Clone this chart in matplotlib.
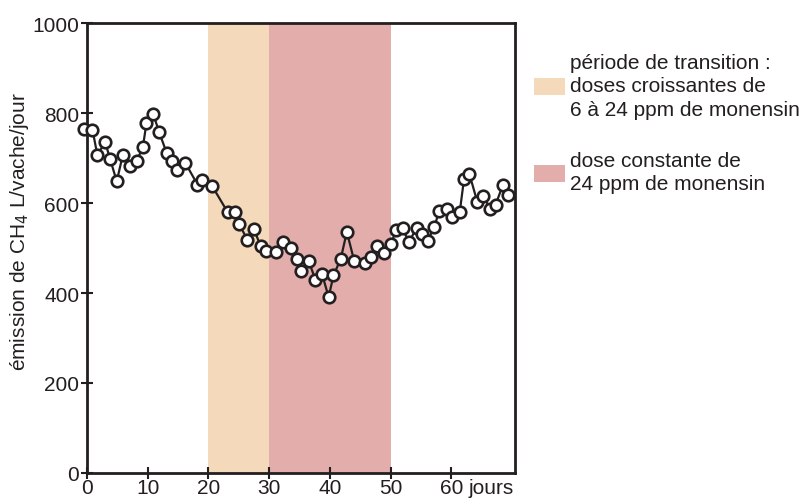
import matplotlib
matplotlib.use("Agg")
import matplotlib.pyplot as plt
from matplotlib.patches import Rectangle
from matplotlib.transforms import blended_transform_factory

plt.rcParams['font.family'] = ['Liberation Sans', 'DejaVu Sans']

# Daily CH4 emission per cow (L/day)
days = [-0.5, 0.9, 1.7, 3.0, 3.8, 4.9, 5.9, 7.1, 8.2, 9.2, 9.8, 10.9, 11.9,
        13.1, 14.0, 14.9, 16.2, 18.2, 18.9, 20.6, 23.2, 24.4, 25.1, 26.4,
        27.5, 28.6, 29.5, 31.1, 32.3, 33.6, 34.6, 35.3, 36.5, 37.6, 38.7,
        39.8, 40.6, 41.8, 42.8, 44.0, 45.8, 46.8, 47.7, 48.9, 50.1, 50.9,
        52.0, 53.0, 54.3, 55.1, 56.1, 57.2, 58.0, 59.3, 60.2, 61.4, 62.1,
        63.0, 64.3, 65.3, 66.4, 67.3, 68.5, 69.4]
emission = [764, 763, 707, 735, 698, 648, 707, 683, 694, 724, 778, 798, 757,
            712, 693, 673, 689, 641, 651, 638, 579, 581, 553, 518, 542, 504,
            494, 492, 513, 501, 476, 448, 472, 430, 443, 391, 439, 476, 536,
            472, 467, 479, 505, 490, 510, 539, 544, 513, 544, 532, 516, 546,
            582, 587, 568, 580, 653, 664, 602, 615, 587, 596, 640, 618]

# Treatment periods (days)
transition = (20, 30)
constant = (30, 50)
period_labels = ["période de transition :\ndoses croissantes de\n6 à 24 ppm de monensin",
                 "dose constante de\n24 ppm de monensin"]
period_colors = ["#F4D9BB", "#E3ADAB"]

xticks = [0, 10, 20, 30, 40, 50, 60]
yticks = [0, 200, 400, 600, 800, 1000]

TXT = "#231F20"
FS = 15

W, H = 807, 502
fig = plt.figure(figsize=(W / 100, H / 100), dpi=100)
ax = fig.add_axes([87 / W, 28 / H, 428 / W, 450 / H])

ax.axvspan(*transition, color=period_colors[0], lw=0, zorder=0)
ax.axvspan(*constant, color=period_colors[1], lw=0, zorder=0)

ax.plot(days, emission, color=TXT, lw=1.6, marker="o", ms=8.3,
        mfc="white", mec=TXT, mew=1.9, zorder=3, clip_on=False)

ax.set_xlim(0, 70.5)
ax.set_ylim(0, 1000)
ax.set_xticks(xticks)
ax.set_yticks(yticks)
ax.tick_params(direction="inout", length=9, width=1.5, colors=TXT,
               labelsize=FS, pad=1)
ax.tick_params(axis="x", pad=-1)
for s in ax.spines.values():
    s.set_linewidth(2)
    s.set_color(TXT)

tr = blended_transform_factory(ax.transData, ax.transAxes)
ax.text(62.8, -0.011, "jours", transform=tr, ha="left", va="top",
        fontsize=FS, color=TXT)

fig.text(20 / W, 1 - 232 / H, "émission de CH$_4$ L/vache/jour", rotation=90,
         ha="center", va="center", fontsize=FS, color=TXT)

# Legend for the treatment periods
for (y0, y1), col in zip([(79, 96), (166, 183)], period_colors):
    fig.patches.append(Rectangle((534 / W, 1 - y1 / H), 31 / W, (y1 - y0) / H,
                                 transform=fig.transFigure, color=col, lw=0))
fig.text(570 / W, 1 - 87 / H, period_labels[0], ha="left", va="center",
         fontsize=FS, color=TXT, linespacing=1.27)
fig.text(570 / W, 1 - 173 / H, period_labels[1], ha="left", va="center",
         fontsize=FS, color=TXT, linespacing=1.27)

fig.savefig("out.png", dpi=100)
